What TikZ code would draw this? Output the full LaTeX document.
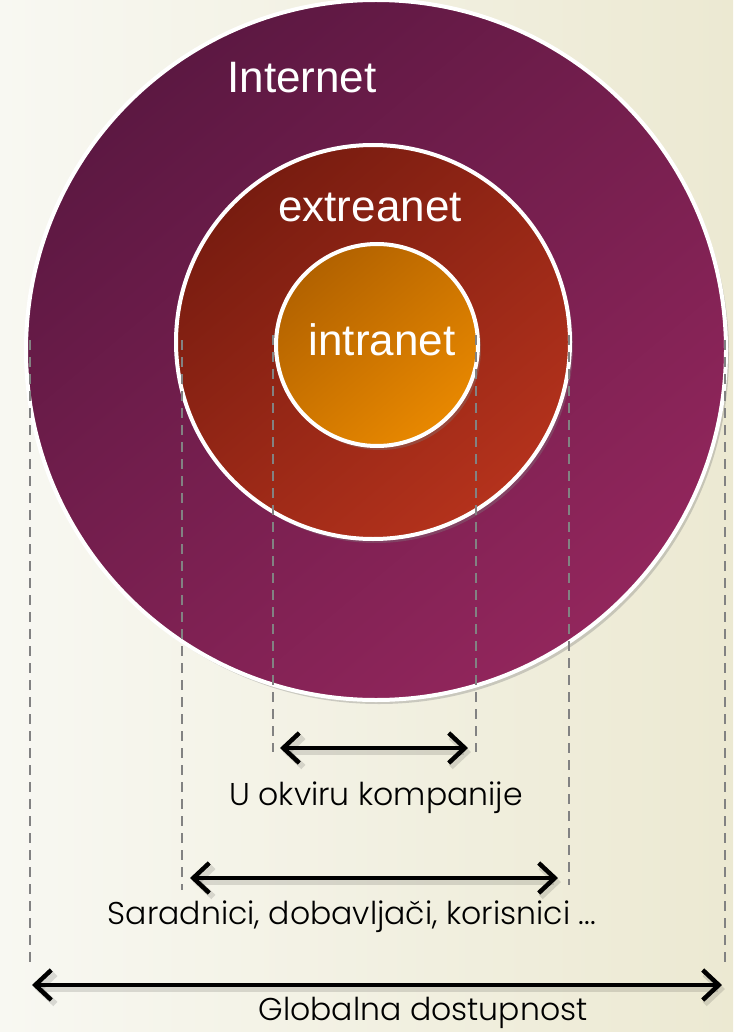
\documentclass[tikz,border=0pt]{standalone}
\usepackage{fontspec}
\setmainfont{Poppins}[UprightFont=* Light]
\newfontfamily\ringfont{Liberation Sans}
\usetikzlibrary{arrows.meta,shadows}
\definecolor{bgL}{RGB}{248,248,242}
\definecolor{bgR}{RGB}{236,233,210}
\definecolor{netA}{RGB}{92,24,66}
\definecolor{netB}{RGB}{146,38,92}
\definecolor{extA}{RGB}{120,28,16}
\definecolor{extB}{RGB}{180,50,28}
\definecolor{intA}{RGB}{178,98,0}
\definecolor{intB}{RGB}{232,136,0}
\definecolor{guide}{RGB}{130,130,130}
\begin{document}
\begin{tikzpicture}[x=1pt,y=-1pt,
  ring/.style={circle, draw=white, line width=4pt, inner sep=0pt,
    drop shadow={opacity=0.35, shadow xshift=3pt, shadow yshift=-4pt}},
  ringlabel/.style={font=\fontsize{44}{44}\ringfont, text=white},
  guideline/.style={draw=guide, line width=2pt, dash pattern=on 10pt off 7pt},
  span/.style={draw=black, line width=4.5pt,
    {Straight Barb[length=16pt,width=30pt]}-{Straight Barb[length=16pt,width=30pt]}},
  spanshade/.style={draw=black, line width=6pt, opacity=0.12,
    {Straight Barb[length=16pt,width=30pt]}-{Straight Barb[length=16pt,width=30pt]}},
  spanlabel/.style={font=\fontsize{31.5}{31.5}\selectfont, text=black}]
\useasboundingbox (0,0) rectangle (733,1032);
\shade[left color=bgL, right color=bgR] (0,0) rectangle (733,1032);

% nested zones
\node[ring, minimum size=700pt, top color=netA, bottom color=netB, shading angle=40] (internet) at (376,350) {};
\node[ring, minimum size=394pt, top color=extA, bottom color=extB, shading angle=40] (extranet) at (373,342) {};
\node[ring, minimum size=202pt, top color=intA, bottom color=intB, shading angle=40] (intranet) at (377,345) {};

% zone names
\node[ringlabel] (internet-lbl) at (302,78) {Internet};
\node[ringlabel] (extranet-lbl) at (370,207) {extreanet};
\node[ringlabel] (intranet-lbl) at (382,340) {intranet};

% guide line end points
\coordinate (g1t) at (30,340);  \coordinate (g1b) at (30,968);
\coordinate (g2t) at (182,340); \coordinate (g2b) at (182,890);
\coordinate (g3t) at (273,335); \coordinate (g3b) at (273,752);
\coordinate (g4t) at (476,335); \coordinate (g4b) at (476,752);
\coordinate (g5t) at (569,335); \coordinate (g5b) at (569,885);
\coordinate (g6t) at (725,340); \coordinate (g6b) at (725,968);
\foreach \i in {1,...,6} \draw[guideline] (g\i t) -- (g\i b);

% reach arrows, each with a faint offset shadow
\coordinate (a1l) at (280,748); \coordinate (a1r) at (468,748);
\coordinate (a2l) at (190,878); \coordinate (a2r) at (558,878);
\coordinate (a3l) at (32,985);  \coordinate (a3r) at (722,985);
\foreach \k in {1,2,3} {
  \draw[spanshade, transform canvas={shift={(3pt,-4pt)}}] (a\k l) -- (a\k r);
  \draw[span] (a\k l) -- (a\k r);
}

\node[spanlabel] (company) at (376,798) {U okviru kompanije};
\node[spanlabel] (partners) at (352,917) {Saradnici, dobavljači, korisnici ...};
\node[spanlabel] (global) at (423,1013) {Globalna dostupnost};
\end{tikzpicture}
\end{document}
